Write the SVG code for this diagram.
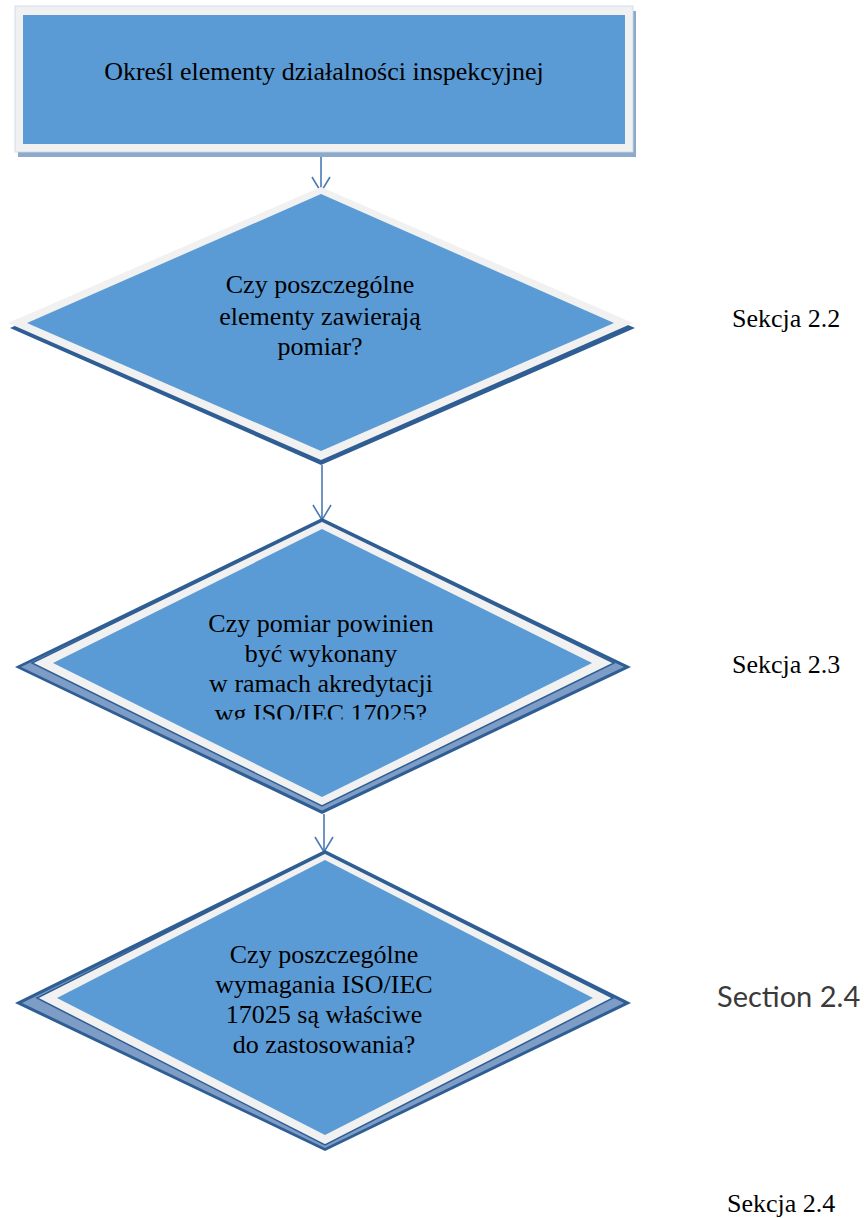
<svg xmlns="http://www.w3.org/2000/svg" width="864" height="1218" viewBox="0 0 864 1218">
<style>
.t{font-family:"Liberation Serif",Tinos,"Times New Roman",Times,"Nimbus Roman","DejaVu Serif",serif;font-size:26px;fill:#000;text-anchor:middle}
.lbl{font-family:"Liberation Serif",Tinos,"Times New Roman",Times,"Nimbus Roman","DejaVu Serif",serif;font-size:26px;fill:#000}
.lbl2{font-family:Lato,"Open Sans","Liberation Sans",sans-serif;font-size:29px;fill:#3a3a3a}
.fill{fill:#5b9bd5}
.brd{fill:#f1f1f1}
.sh{fill:#2f5e94}
.conn{stroke:#4a79b6;stroke-width:1.6;fill:none}
</style>
<defs>
<marker id="arr" viewBox="0 0 18 20" refX="16" refY="10" markerWidth="18" markerHeight="20" markerUnits="userSpaceOnUse" orient="auto">
<path d="M1,1 L16,10 L1,19" fill="none" stroke="#4a79b6" stroke-width="1.6"/>
</marker>
<clipPath id="cut"><rect x="100" y="600" width="450" height="119.5"/></clipPath>
</defs>
<rect width="864" height="1218" fill="#fff"/>

<g id="connectors">
<line class="conn" x1="321" y1="157" x2="321" y2="192" marker-end="url(#arr)"/>
<line class="conn" x1="322" y1="465" x2="322" y2="520" marker-end="url(#arr)"/>
<line class="conn" x1="324" y1="814" x2="324" y2="852" marker-end="url(#arr)"/>
</g>

<g id="n1">
<rect x="18" y="11" width="618" height="146" fill="#8eaaca"/>
<rect x="15" y="6" width="618" height="146" class="brd" stroke="#c9d8ec" stroke-width="0.8"/>
<rect x="23" y="15" width="602" height="129" class="fill"/>
<text class="t" x="324" y="80">Określ elementy działalności inspekcyjnej</text>
</g>

<g id="n2">
<polygon class="sh" points="321,192 635,328 321,465 10,328"/>
<polygon class="brd" points="321,187 633,323 321,460 8,323"/>
<polygon class="fill" points="321,194 614,323 321,451 27,323"/>
<text class="t" x="320" y="293">Czy poszczególne</text>
<text class="t" x="320" y="325">elementy zawierają</text>
<text class="t" x="320" y="355">pomiar?</text>
</g>

<g id="n3">
<polygon class="sh" points="322,518 631,667 322,814 15,667"/>
<polygon fill="#7d9cc6" points="322,523 624,667 322,810.5 21,667"/>
<polygon class="brd" stroke="#2f5e94" stroke-width="1.5" points="322,521 614,663 322,806 32,663"/>
<polygon class="fill" points="322,529 592,663 322,797 53,663"/>
<text class="t" x="321" y="632">Czy pomiar powinien</text>
<text class="t" x="321" y="662">być wykonany</text>
<text class="t" x="321" y="692">w ramach akredytacji</text>
<text class="t" x="321" y="722" clip-path="url(#cut)">wg ISO/IEC 17025?</text>
</g>

<g id="n4">
<polygon class="sh" points="325,850 631,1003 325,1151 15,1003"/>
<polygon fill="#7d9cc6" points="325,855 624,1003 325,1148 22,1003"/>
<polygon class="brd" stroke="#2f5e94" stroke-width="1.5" points="325,853 613,998 325,1145 37,998"/>
<polygon class="fill" points="325,860 593,998 325,1135 57,998"/>
<text class="t" x="324" y="963">Czy poszczególne</text>
<text class="t" x="324" y="993">wymagania ISO/IEC</text>
<text class="t" x="324" y="1023">17025 są właściwe</text>
<text class="t" x="324" y="1053">do zastosowania?</text>
</g>

<g id="labels">
<text class="lbl" x="732" y="327">Sekcja 2.2</text>
<text class="lbl" x="732" y="673">Sekcja 2.3</text>
<text class="lbl2" x="717" y="1007">Section 2.4</text>
<text class="lbl" x="727" y="1212">Sekcja 2.4</text>
</g>
</svg>
